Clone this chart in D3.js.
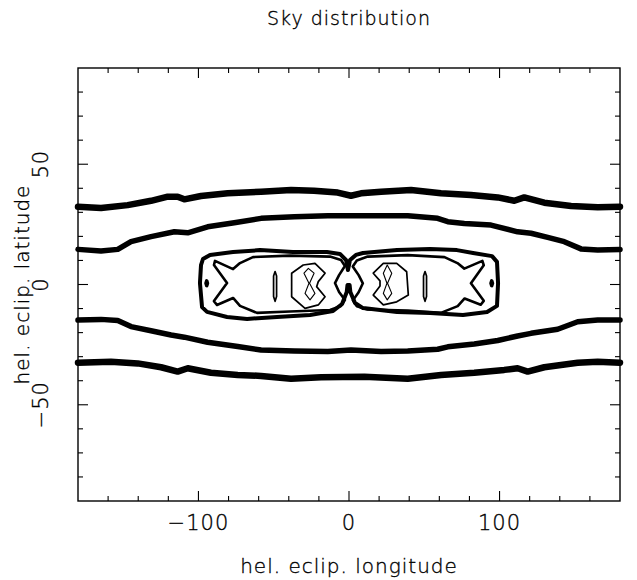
<!DOCTYPE html>
<html>
<head>
<meta charset="utf-8">
<script src="https://cdn.jsdelivr.net/npm/d3@7"></script>
<style>
  body { margin: 0; background: #fff; }
  svg text { font-family: "DejaVu Sans", sans-serif; font-weight: 200; fill: #000; stroke: #000; stroke-width: 0.35px; letter-spacing: 1px; }
</style>
</head>
<body>
<div id="chart"></div>
<script>
// Sky distribution: hand-traced contour levels, [lon, lat] in degrees

const title = "Sky distribution";
const xTitle = "hel. eclip. longitude";
const yTitle = "hel. eclip. latitude";
const xMajor = [-100, 0, 100];
const yMajor = [-50, 0, 50];

// level 1 (lowest)
const northOuter = [[-180,32.3],[-164.7,31.8],[-147,33.0],[-131.5,34.8],[-120.4,36.5],[-113.8,36.5],[-109.4,35.4],[-98.3,36.8],[-80.6,37.9],[-58.4,38.6],[-38.5,39.3],[-23.2,39.0],[-7.5,38.2],[1.3,36.9],[8,37.9],[21.3,38.6],[41.2,39.3],[61.1,37.9],[81,37.2],[98.8,36.2],[109.8,34.8],[116.4,36.2],[129.7,34.0],[147.5,32.6],[165.2,32.1],[180,32.3]];
const southOuter = [[-180,-32.5],[-158.1,-32.1],[-140.3,-32.8],[-124.8,-34.4],[-113.8,-36.2],[-107.1,-34.8],[-91.7,-36.7],[-73.9,-37.6],[-58.4,-38.0],[-38.5,-39.2],[-18.6,-38.6],[10.2,-38.3],[39,-39.2],[61.1,-37.6],[83.2,-36.7],[103.1,-35.5],[112,-34.8],[118.7,-36.2],[129.7,-34.4],[151.9,-32.5],[165.2,-32.1],[180,-32.5]];

// level 2
const northInner = [[-180,14.6],[-164.7,13.9],[-153.6,14.6],[-144.8,17.8],[-131.5,19.9],[-116,21.9],[-107.1,21.5],[-93.9,24.0],[-76.2,25.7],[-58.4,27.5],[-36.3,28.2],[-14.1,28.6],[10.2,28.6],[39,28.6],[58.9,27.5],[65.6,26.1],[76.6,25.4],[94.3,24.7],[112,21.9],[120.9,21.3],[132,19.6],[143,17.8],[154.1,14.8],[165.2,14.3],[180,14.6]];
const southInner = [[-180,-14.8],[-164.7,-14.5],[-153.6,-15.0],[-144.8,-17.5],[-131.5,-19.2],[-118.2,-21.0],[-109.4,-21.9],[-93.9,-24.0],[-73.9,-25.8],[-58.4,-27.2],[-36.3,-27.6],[-14.1,-27.9],[1.3,-27.2],[21.3,-27.9],[39,-27.6],[58.9,-26.9],[65.6,-25.9],[83.2,-24.7],[98.8,-23.3],[112,-21.4],[120.9,-20.3],[138.6,-18.6],[151.9,-15.5],[165.2,-14.8],[180,-14.8]];

// level 3: ring round both lobes
const coreRing = [[-97.0,10.6],[-92.3,12.3],[-77.0,13.5],[-59.1,14.3],[-37.2,13.5],[-14.6,13.5],[-6.0,12.7],[-2.0,10.2],[-0.7,6.0],[0.7,10.2],[4.6,12.3],[9.3,13.1],[31.9,14.3],[53.8,14.8],[71.7,14.3],[82.4,13.1],[95.0,11.8],[98.3,9.4],[99.0,0.6],[98.3,-8.9],[91.7,-11.4],[75.7,-12.7],[53.8,-11.8],[31.9,-11.4],[9.3,-9.8],[4.0,-7.7],[0.9,-3.1],[0.4,-0.2],[-1.0,-0.2],[-1.5,-3.1],[-4.6,-8.1],[-10.6,-11.0],[-25.9,-12.7],[-47.8,-13.5],[-67.7,-14.3],[-81.0,-13.5],[-94.3,-11.4],[-97.6,-9.4],[-99.0,0.6],[-98.3,8.1]];

// level 4: one per lobe, plus the two end dots
const lobeWest = [[-89.0,9.8],[-77.0,6.4],[-72.4,8.9],[-63.8,11.4],[-39.2,12.0],[-12.6,11.6],[-5.3,10.2],[-2.7,7.7],[-6.6,3.9],[-9.3,0.6],[-6.6,-3.1],[-2.7,-6.4],[-5.3,-8.9],[-12.6,-10.6],[-39.2,-11.2],[-61.1,-11.8],[-72.4,-8.9],[-77.0,-5.6],[-87.7,-8.5],[-89.7,-6.9],[-81.0,0.6],[-89.7,8.1]];
const lobeEast = [[88.6,9.8],[76.6,6.6],[72.0,8.9],[63.4,11.4],[39.0,12.2],[12.4,11.6],[5.2,10.0],[2.5,7.5],[6.4,3.9],[9.2,0.5],[6.4,-3.2],[2.6,-6.6],[5.2,-9.0],[12.4,-10.4],[39.0,-10.8],[61.0,-11.8],[72.2,-9.0],[76.8,-5.8],[87.5,-8.4],[89.5,-6.8],[81.0,0.5],[89.5,8.0]];
const dotWest = [[-94.5,1.5],[-94.0,0.5],[-94.5,-0.5],[-95.0,0.5]];
const dotEast = [[94.8,1.5],[95.3,0.5],[94.8,-0.5],[94.3,0.5]];

// level 5
const rodWest = [[-49.1,5.4],[-48.1,3.5],[-48.1,-5.0],[-49.1,-7.0],[-50.1,-5.0],[-50.1,3.5]];
const rodEast = [[50.5,5.4],[51.5,3.5],[51.5,-5.0],[50.5,-7.0],[49.5,-5.0],[49.5,3.5]];
const hexWest = [[-38.1,4.7],[-30.4,8.1],[-22.6,8.8],[-15.9,4.7],[-20.4,1.2],[-21.5,-0.9],[-15.9,-5.1],[-20.4,-8.5],[-29.2,-9.9],[-38.1,-5.1]];
const hexEast = [[16.1,4.7],[22.8,8.8],[31.7,8.8],[38.3,5.3],[39.4,-4.4],[31.7,-7.2],[22.8,-8.5],[16.1,-4.4],[20.6,-0.6],[20.6,1.5]];

// level 6 (peak)
const peakWest = [[-27.0,6.7],[-23.2,4.7],[-26.2,0.5],[-22.6,-3.7],[-25.9,-6.4],[-29.2,-3.7],[-26.6,0.5],[-29.9,4.7]];
const peakEast = [[25.4,8.1],[28.4,4.7],[25.6,0.5],[28.4,-3.7],[25.4,-6.4],[22.8,-3.7],[25.2,0.5],[22.8,4.7]];

const width = 637;
const height = 580;
const margin = { top: 68, right: 17, bottom: 79, left: 78 };

const svg = d3.select("#chart")
  .append("svg")
  .attr("width", width)
  .attr("height", height);

const x = d3.scaleLinear()
  .domain([-180, 180])
  .range([margin.left, width - margin.right]);

const y = d3.scaleLinear()
  .domain([-90, 90])
  .range([height - margin.bottom, margin.top]);

const x0 = margin.left, x1 = width - margin.right;
const y0 = height - margin.bottom, y1 = margin.top;

// contours
const openLine = d3.line().x(d => x(d[0])).y(d => y(d[1]));
const closedLine = d3.line().x(d => x(d[0])).y(d => y(d[1])).curve(d3.curveLinearClosed);

const levels = [
  { lines: [northOuter, southOuter], w: 6.5, closed: false },
  { lines: [northInner, southInner], w: 5.5, closed: false },
  { lines: [coreRing], w: 4, closed: true },
  { lines: [lobeWest, lobeEast], w: 2.6, closed: true },
  { lines: [dotWest, dotEast], w: 3.5, closed: true },
  { lines: [rodWest, rodEast, hexWest, hexEast], w: 1.7, closed: true },
  { lines: [peakWest, peakEast], w: 1.1, closed: true }
];

levels.forEach(lv => {
  svg.append("g")
    .selectAll("path")
    .data(lv.lines)
    .enter()
    .append("path")
    .attr("d", d => lv.closed ? closedLine(d) : openLine(d))
    .attr("fill", "none")
    .attr("stroke", "#000")
    .attr("stroke-width", lv.w)
    .attr("stroke-linejoin", "round")
    .attr("stroke-linecap", "round");
});

// frame
svg.append("rect")
  .attr("x", x0)
  .attr("y", y1)
  .attr("width", x1 - x0)
  .attr("height", y0 - y1)
  .attr("fill", "none")
  .attr("stroke", "#000")
  .attr("stroke-width", 1.4);

// inward ticks on all four sides
const xTicks = d3.range(-160, 180, 20);
const yTicks = d3.range(-80, 90, 10);

const ticks = svg.append("g")
  .attr("stroke", "#000")
  .attr("stroke-width", 1.1);

xTicks.forEach(v => {
  const len = xMajor.includes(v) ? 10 : 5;
  ticks.append("line").attr("x1", x(v)).attr("x2", x(v)).attr("y1", y0).attr("y2", y0 - len);
  ticks.append("line").attr("x1", x(v)).attr("x2", x(v)).attr("y1", y1).attr("y2", y1 + len);
});

yTicks.forEach(v => {
  const len = yMajor.includes(v) ? 10 : 5;
  ticks.append("line").attr("x1", x0).attr("x2", x0 + len).attr("y1", y(v)).attr("y2", y(v));
  ticks.append("line").attr("x1", x1).attr("x2", x1 - len).attr("y1", y(v)).attr("y2", y(v));
});

const fmt = v => v < 0 ? "\u2212" + Math.abs(v) : String(v);

svg.selectAll(".xlab")
  .data(xMajor)
  .enter()
  .append("text")
  .attr("x", d => x(d))
  .attr("y", 530)
  .attr("text-anchor", "middle")
  .style("font-size", "21px")
  .text(fmt);

svg.selectAll(".ylab")
  .data(yMajor)
  .enter()
  .append("text")
  .attr("transform", d => `translate(48,${y(d)}) rotate(-90)`)
  .attr("text-anchor", "middle")
  .style("font-size", "21px")
  .text(fmt);

svg.append("text")
  .attr("x", (x0 + x1) / 2)
  .attr("y", 25)
  .attr("text-anchor", "middle")
  .style("font-size", "19px")
  .text(title);

svg.append("text")
  .attr("x", (x0 + x1) / 2)
  .attr("y", 573)
  .attr("text-anchor", "middle")
  .style("font-size", "20px")
  .text(xTitle);

svg.append("text")
  .attr("transform", `translate(29,${y(0)}) rotate(-90)`)
  .attr("text-anchor", "middle")
  .style("font-size", "20px")
  .text(yTitle);
</script>
</body>
</html>
